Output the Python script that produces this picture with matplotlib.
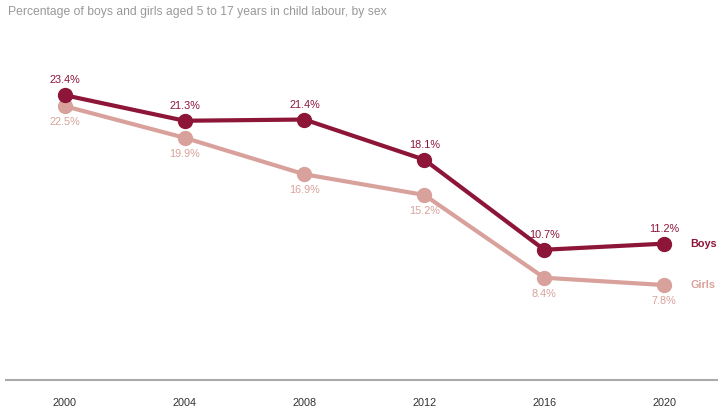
import matplotlib.pyplot as plt

plt.rcParams['font.family'] = ['Liberation Sans', 'DejaVu Sans']

years = [2000, 2004, 2008, 2012, 2016, 2020]
boys = [23.4, 21.3, 21.4, 18.1, 10.7, 11.2]
girls = [22.5, 19.9, 16.9, 15.2, 8.4, 7.8]

boys_color = '#8c1538'
girls_color = '#d9a19b'

fig = plt.figure(figsize=(7.18, 4.13), dpi=100)
ax = fig.add_axes([0.008, 0.08, 0.992, 0.884])

ax.plot(years, girls, color=girls_color, lw=3, marker='o', ms=10, zorder=2)
ax.plot(years, boys, color=boys_color, lw=3, marker='o', ms=10, zorder=3)

for x, b, g in zip(years, boys, girls):
    ax.annotate(f'{b}%', (x, b), xytext=(0, 7), textcoords='offset points',
                ha='center', va='bottom', fontsize=7.8, color=boys_color)
    ax.annotate(f'{g}%', (x, g), xytext=(0, -8), textcoords='offset points',
                ha='center', va='top', fontsize=7.8, color=girls_color)

ax.annotate('Boys', (years[-1], boys[-1]), xytext=(19, 0), textcoords='offset points',
            ha='left', va='center', fontsize=7.8, fontweight='bold', color=boys_color)
ax.annotate('Girls', (years[-1], girls[-1]), xytext=(19, 0), textcoords='offset points',
            ha='left', va='center', fontsize=7.8, fontweight='bold', color=girls_color)

ax.set_xlim(1998.03, 2021.8)
ax.set_ylim(0, 30)
ax.set_xticks(years)
ax.set_xticklabels([str(y) for y in years], fontsize=7.8, color='#333333')
ax.tick_params(axis='x', length=0, pad=13)
ax.set_yticks([])
for side in ['top', 'right', 'left']:
    ax.spines[side].set_visible(False)
ax.spines['bottom'].set_color('#aaaaaa')
ax.spines['bottom'].set_linewidth(1.5)

fig.text(0.011, 0.972, 'Percentage of boys and girls aged 5 to 17 years in child labour, by sex',
         fontsize=8.7, color='#999999', ha='left', va='center')

fig.savefig('out.png', dpi=100)
